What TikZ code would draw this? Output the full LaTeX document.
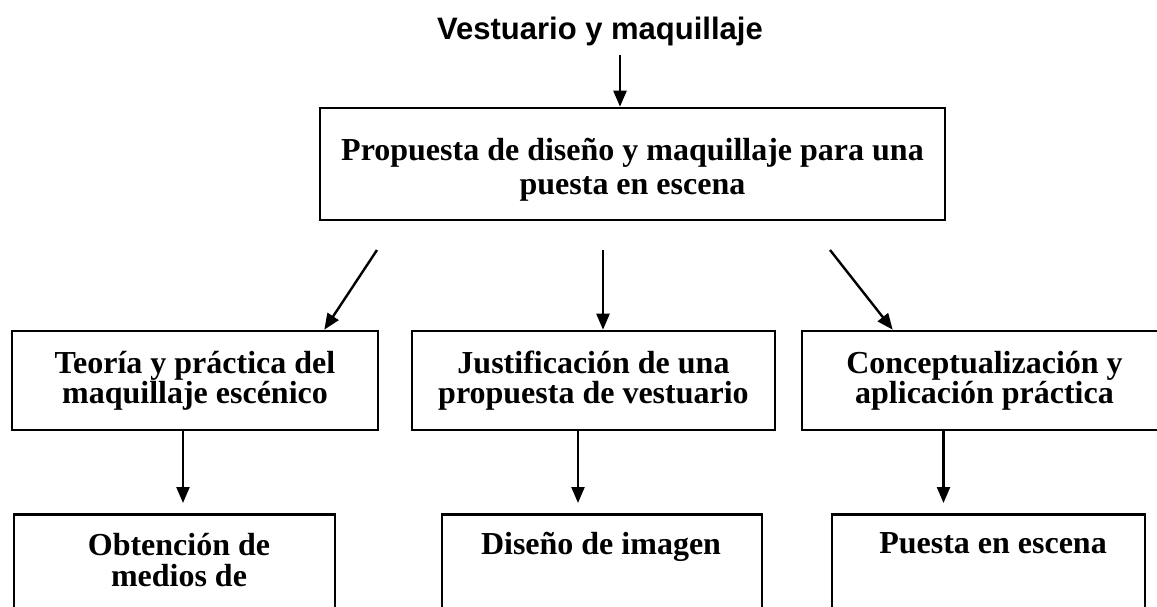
\documentclass[tikz,border=0pt]{standalone}
\usepackage{fontspec}
\setmainfont{Liberation Serif}
\newfontfamily\titlefont{Liberation Sans}
\usetikzlibrary{arrows.meta}
\begin{document}
\begin{tikzpicture}[x=1pt,y=-1pt,
  box/.style={draw, line width=2.6pt, rectangle, inner sep=0pt, align=center,
    font=\fontsize{32}{30}\selectfont\bfseries},
  txt/.style={inner sep=0pt, align=center, font=\fontsize{32}{31.5}\selectfont\bfseries},
  arr/.style={line width=2.4pt, -{Triangle[length=16pt,width=13pt]}},
]
\useasboundingbox (0,0) rectangle (1157,607);

% title
\node[font=\titlefont\bfseries\fontsize{31}{36}\selectfont, anchor=base, inner sep=0pt] (title) at (600,40) {Vestuario y maquillaje};

% top box
\node[box, minimum width=625pt, minimum height=112pt, font=\fontsize{32}{34}\selectfont\bfseries] (top) at (632.5,164)
  {\rule{0pt}{33pt}Propuesta de diseño y maquillaje para una\\puesta en escena};

% second row
\node[box, minimum width=366pt, minimum height=99pt] (b1) at (195,380.5)
  {Teoría y práctica del\\maquillaje escénico};
\node[box, minimum width=363pt, minimum height=99pt] (b2) at (593.5,380.5)
  {Justificación de una\\propuesta de vestuario};
\node[box, minimum width=365pt, minimum height=99pt] (b3) at (984.5,380.5)
  {Conceptualización y\\aplicación práctica};

% third row (boxes continue below the page)
\node[box, minimum width=321pt, minimum height=140pt, anchor=north] (c1) at (174.5,513) {};
\node[box, minimum width=320pt, minimum height=140pt, anchor=north] (c2) at (602,513) {};
\node[box, minimum width=313pt, minimum height=140pt, anchor=north] (c3) at (988.5,513) {};
\node[txt, anchor=north] (c1t) at ([xshift=4.5pt,yshift=-20pt]c1.north) {Obtención de\\medios de};
\node[txt, anchor=north] (c2t) at ([xshift=-1pt,yshift=-19pt]c2.north) {Diseño de imagen};
\node[txt, anchor=north] (c3t) at ([xshift=4.5pt,yshift=-19pt]c3.north) {Puesta en escena};

% connectors
\coordinate (a0) at (620,55);
\draw[arr] (a0) -- ([xshift=-12.5pt]top.north);

\coordinate (s1) at (377,250);
\coordinate (s2) at (603,250);
\coordinate (s3) at (830,250);
\draw[arr] (s1) -- ([xshift=-55pt]b1.north east);
\draw[arr] (s2) -- ([xshift=9.5pt]b2.north);
\draw[arr] (s3) -- ([xshift=92pt]b3.north west);

\draw[arr, shorten >=10pt] ([xshift=-12pt]b1.south) -- ([xshift=8.5pt]c1.north);
\draw[arr, shorten >=10pt] ([xshift=-15.5pt]b2.south) -- ([xshift=-24pt]c2.north);
\draw[arr, shorten >=10pt] ([xshift=-41pt]b3.south) -- ([xshift=-45pt]c3.north);
\end{tikzpicture}
\end{document}
